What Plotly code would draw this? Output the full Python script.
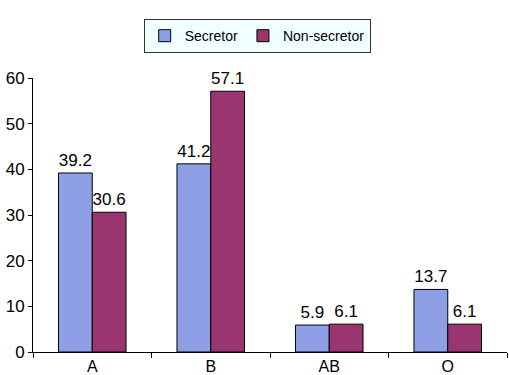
import plotly.graph_objects as go

# Blood group distribution by secretor status (%)
groups = ["A", "B", "AB", "O"]
secretor = [39.2, 41.2, 5.9, 13.7]
non_secretor = [30.6, 57.1, 6.1, 6.1]

font_family = "Liberation Sans, Arial, sans-serif"

fig = go.Figure()
fig.add_trace(go.Bar(
    x=groups, y=secretor, name="Secretor",
    marker=dict(color="#8F9FE6", line=dict(color="#000000", width=1)),
    text=[f"{v:.1f}" for v in secretor], textposition="outside",
    textfont=dict(size=17, color="#000000"), cliponaxis=False,
))
fig.add_trace(go.Bar(
    x=groups, y=non_secretor, name="Non-secretor",
    marker=dict(color="#993670", line=dict(color="#000000", width=1)),
    text=[f"{v:.1f}" for v in non_secretor], textposition="outside",
    textfont=dict(size=17, color="#000000"), cliponaxis=False,
))

fig.update_layout(
    width=509, height=375,
    margin=dict(l=33, r=2, t=78, b=23),
    paper_bgcolor="white", plot_bgcolor="white",
    barmode="group", bargap=0.43, bargroupgap=0,
    font=dict(family=font_family, size=17, color="#000000"),
    showlegend=True,
    legend=dict(
        orientation="h", x=0.473, xanchor="center", y=1.215, yanchor="top",
        bgcolor="#F0FFFF", bordercolor="#333333", borderwidth=1,
        font=dict(size=14), itemwidth=30, tracegroupgap=0,
    ),
)
fig.update_xaxes(
    showline=True, linecolor="#000000", linewidth=1,
    ticks="outside", tickson="boundaries", ticklen=5, tickcolor="#000000",
    showgrid=False, tickfont=dict(size=16), automargin=False,
)
fig.update_yaxes(
    range=[0, 60], dtick=10,
    showline=True, linecolor="#000000", linewidth=1,
    ticks="outside", ticklen=4, tickcolor="#000000",
    showgrid=False, zeroline=False, tickfont=dict(size=17), automargin=False,
)

fig.write_html("out.html")
